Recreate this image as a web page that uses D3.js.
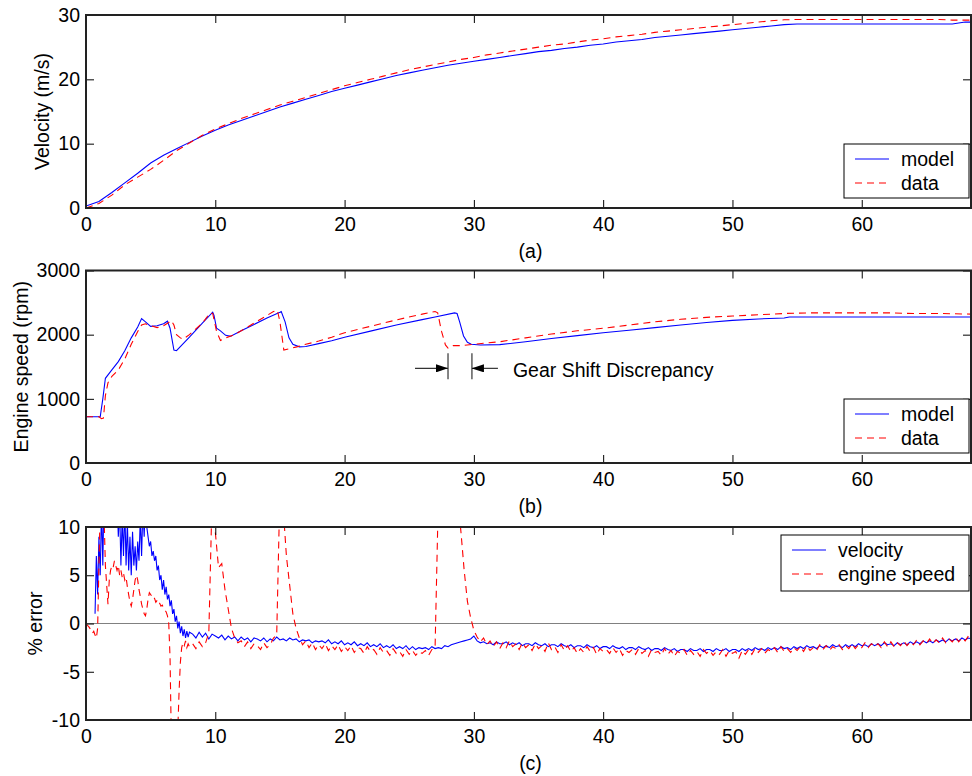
<!DOCTYPE html>
<meta charset="utf-8">
<head>
<style>
body { margin: 0; background: #fff; }
svg { display: block; font-family: "Liberation Sans", Arial, sans-serif; }
.tick line { stroke: #000; }
.tick text { font-size: 19.5px; fill: #000; }
.frame { fill: none; stroke: #222; stroke-width: 2; }
.model { fill: none; stroke: #0000ff; stroke-width: 1.1; }
.data { fill: none; stroke: #ff0000; stroke-width: 1.1; stroke-dasharray: 7,5; }
.lbl { font-size: 19.5px; fill: #000; }
</style>
</head>
<body>
<svg></svg>
<script src="https://cdn.jsdelivr.net/npm/d3@7/dist/d3.min.js"></script>
<script>
// ---- data ----
var xTicks = [0, 10, 20, 30, 40, 50, 60];
var velTicks = [0, 10, 20, 30];
var rpmTicks = [0, 1000, 2000, 3000];
var errTicks = [-10, -5, 0, 5, 10];

// velocity, 1 s samples 0..68 plus 68.5
var velTime = d3.range(0, 69).concat([68.5]);
var velModel = [0.3,1.0,2.4,3.9,5.4,7.0,8.2,9.2,10.2,11.2,
  12.1,12.9,13.6,14.3,15.0,15.7,16.3,16.9,17.5,18.1,
  18.6,19.1,19.6,20.1,20.6,21.0,21.4,21.8,22.2,22.5,
  22.8,23.1,23.4,23.7,24.0,24.3,24.5,24.8,25.0,25.3,
  25.5,25.8,26.0,26.2,26.5,26.7,26.9,27.1,27.3,27.5,
  27.7,27.9,28.1,28.3,28.5,28.6,28.6,28.6,28.6,28.6,
  28.6,28.6,28.6,28.6,28.6,28.6,28.6,28.6,28.9,
  28.9];
var velData = [0.0,0.7,2.0,3.6,4.8,6.0,7.4,8.9,10.1,11.3,
  12.3,13.1,13.9,14.6,15.3,16.0,16.6,17.2,17.8,18.4,
  19.0,19.5,20.0,20.5,21.0,21.5,21.9,22.3,22.7,23.1,
  23.4,23.8,24.1,24.4,24.7,25.0,25.3,25.5,25.8,26.1,
  26.3,26.6,26.8,27.0,27.3,27.5,27.7,27.9,28.1,28.3,
  28.5,28.7,28.9,29.1,29.25,29.3,29.3,29.3,29.3,29.3,
  29.3,29.3,29.3,29.3,29.3,29.3,29.3,29.2,29.2,
  29.2];

// engine speed (rpm)
var rpmModelTime = [0,1.1,1.3,1.5,2.0,2.5,3.0,3.5,4.0,4.3,4.6,5.0,5.5,6.0,6.3,6.5,6.8,7.0,8.0,9.0,
  9.8,9.9,10.1,10.4,10.8,11.2,12,13,14,15.0,15.1,15.4,15.7,16.0,16.5,17,18,19,20,22,
  24,26,27,28.5,28.7,28.9,29.2,29.5,29.8,30.5,32,34,36,38,40,42,44,46,48,50,
  52,54,54.4,56,58,60,62,64,66,68.5];
var rpmModel = [720,720,1000,1320,1450,1580,1750,1950,2120,2250,2200,2130,2140,2170,2210,2100,1760,1750,1960,2180,
  2350,2300,2100,2060,1990,1975,2060,2160,2260,2350,2360,2200,1950,1850,1810,1815,1860,1905,1960,2055,
  2150,2235,2275,2340,2330,2200,1980,1880,1850,1840,1845,1890,1940,1985,2030,2070,2110,2150,2190,2222,
  2245,2260,2275,2275,2275,2275,2275,2275,2275,2275];
var rpmDataTime = [0,1.0,1.2,1.35,1.5,1.7,2.0,2.5,3.0,3.5,4.0,4.3,4.6,5.0,5.5,6.0,6.4,6.6,6.8,7.0,
  7.3,7.5,8.0,9.0,9.6,9.8,10.1,10.4,10.8,11.5,12.5,13.5,14.5,14.8,15.0,15.3,15.7,16.3,17,18,
  19,20,22,24,26,27.0,27.2,27.5,27.8,28.0,28.4,29,30,32,34,36,38,40,42,44,
  46,48,50,52,54,56,58,60,62,64,66,68.5];
var rpmData = [720,720,690,700,1050,1250,1350,1450,1620,1850,2050,2150,2170,2140,2110,2140,2190,2220,2150,2000,
  1950,1930,2000,2180,2340,2330,2050,1910,1950,2000,2120,2240,2360,2380,2200,1760,1780,1810,1850,1900,
  1960,2030,2130,2230,2320,2360,2340,2050,1840,1790,1830,1830,1850,1890,1950,2010,2060,2100,2150,2200,
  2240,2270,2290,2310,2330,2340,2340,2340,2340,2330,2330,2320];

// % error: 0.1 s samples for 0..8 s, then 0.25 s samples 8.25..68.5
var errEarlyStep = 0.1, errLateStart = 8.25, errLateStep = 0.25;
var velErrEarly = [null,null,null,null,null,null,null,1.0,7,3,
  9,5,12,6,14,11,15,13,16,12,15,13,14,12,13,9,12,6,11,7,
  12,6,10.5,5.5,9,5,9.5,6,8,5.5,8.5,6.5,11,7,12,9,13,10,9,8,
  8.5,7,7.5,6.5,7,5.5,6,4.5,5,3.5,4.5,3,3.8,2.5,3,1.8,2.4,1,1.5,0.2,
  0.8,-0.5,0.2,-1,-0.3,-1.3,-0.6,-1.5,-0.8,-1.4,-0.9];
var velErrLate = [-1.1,-1.5,-0.9,-1.4, -1.0,-1.6,-1.1,-1.3, -1.5,-1.2,-1.7,-1.3, -1.6,-1.4,-1.8,-1.4,
  -1.7,-1.5,-1.9,-1.5, -1.6,-1.8,-1.5,-1.9, -1.6,-1.8,-1.4,-1.7, -1.6,-1.8,-1.5,-1.7,
  -1.6,-1.9,-1.7,-1.8, -1.7,-2.0,-1.8,-1.9, -1.8,-2.0,-1.7,-2.1, -1.9,-2.1,-1.8,-2.2,
  -2.0,-2.2,-1.9,-2.3, -2.1,-2.3,-2.0,-2.4, -2.2,-2.4,-2.1,-2.5, -2.3,-2.5,-2.2,-2.6,
  -2.4,-2.6,-2.3,-2.7, -2.4,-2.7,-2.5,-2.6, -2.5,-2.7,-2.4,-2.6, -2.5,-2.6,-2.3,-2.4,
  -2.2,-2.1,-2.0,-1.9, -1.8,-1.7,-1.6,-1.3, -1.8,-2.0,-1.9,-2.1, -2.0,-2.2,-1.9,-2.1,
  -2.1,-1.9,-2.2,-2.0, -2.2,-2.0,-2.3,-2.1, -2.1,-2.3,-2.0,-2.2, -2.3,-2.1,-2.4,-2.2,
  -2.2,-2.4,-2.1,-2.3, -2.4,-2.2,-2.5,-2.3, -2.3,-2.5,-2.2,-2.4, -2.5,-2.3,-2.6,-2.4,
  -2.4,-2.6,-2.3,-2.5, -2.6,-2.4,-2.7,-2.5, -2.5,-2.7,-2.4,-2.6, -2.7,-2.5,-2.8,-2.6,
  -2.6,-2.8,-2.5,-2.7, -2.8,-2.6,-2.9,-2.7, -2.7,-2.9,-2.6,-2.8, -2.8,-2.6,-2.9,-2.7,
  -2.7,-2.9,-2.6,-2.8, -2.8,-2.6,-2.9,-2.7, -2.7,-2.9,-2.6,-2.8, -2.6,-2.8,-2.5,-2.7,
  -2.6,-2.8,-2.5,-2.7, -2.5,-2.7,-2.4,-2.6, -2.5,-2.7,-2.4,-2.6, -2.4,-2.6,-2.3,-2.5,
  -2.4,-2.6,-2.3,-2.5, -2.3,-2.5,-2.2,-2.4, -2.3,-2.5,-2.2,-2.4, -2.2,-2.4,-2.1,-2.3,
  -2.2,-2.4,-2.1,-2.3, -2.1,-2.3,-2.0,-2.2, -2.1,-2.3,-2.0,-2.2, -2.0,-2.2,-1.9,-2.1,
  -1.9,-2.1,-1.8,-2.0, -1.8,-2.0,-1.7,-1.9, -1.7,-1.9,-1.6,-1.8, -1.6,-1.8,-1.5,-1.7,
  -1.5,-1.6];
var rpmErrEarly = [0,-0.2,-0.3,-0.5,-0.8,-1.0,-0.8,-1.2,-1.5,-0.5,
  6,12,15,14,11,6,4,2,4.5,5.5,6,5.8,6.5,6,5.5,6,5,5.5,4.8,5.2,
  4.5,4.8,3.8,3,2.2,1.8,2.5,3.5,4.5,5,4.5,3.5,2.8,2,1.5,1,0.8,1.5,2.5,3.2,
  3,2.8,2.5,2.6,2.2,2.4,2,2.1,1.8,1.9,1.6,1.4,1.2,0.8,0,-3.5,-12,-15,-15,-14,
  -13,-11,-7,-4,-2.5,-2,-2.3,-1.8,-2.5,-2.1,-2.4];
var rpmErrLate = [-2.1,-2.6,-1.9,-2.4, -2.0,-1.0,13,9.5, 5.8,6.2,3.5,1.5, -0.5,-1.5,-2.0,-1.8,
  -2.4,-1.9,-2.6,-2.1, -2.3,-2.7,-2.0,-2.5, -2.2,-1.5,-1.2,14, 12,7,4,1,
  -0.5,-1.5,-2.2,-1.8, -2.5,-2.0,-2.7,-2.2, -2.6,-2.1,-2.8,-2.3, -2.7,-2.2,-2.9,-2.4,
  -2.8,-2.3,-3.0,-2.5, -2.6,-3.1,-2.4,-2.9, -2.7,-3.2,-2.5,-3.0, -2.8,-3.3,-2.6,-3.1,
  -2.9,-3.4,-2.7,-3.2, -2.8,-3.3,-2.9,-3.1, -2.8,-3.3,-2.7,-2.5, 13,15,15,15,
  15,15,13,9.5, 5.5,2.3,0.6,-0.7, -1.4,-1.9,-1.5,-2.2, -1.8,-2.4,-1.9,-2.6,
  -2.0,-2.5,-1.8,-2.4, -2.1,-2.7,-2.0,-2.5, -2.2,-2.8,-2.1,-2.6, -2.3,-2.9,-2.0,-2.7,
  -2.4,-3.0,-2.2,-2.8, -2.3,-2.9,-2.5,-3.1, -2.6,-3.0,-2.4,-2.9, -2.5,-3.2,-2.6,-2.9,
  -2.7,-3.1,-2.5,-3.0, -2.6,-3.3,-2.8,-3.0, -2.7,-3.2,-2.6,-3.1, -2.8,-3.4,-2.7,-3.0,
  -2.9,-3.3,-2.6,-3.2, -2.8,-3.4,-2.9,-3.1, -2.7,-3.3,-2.8,-3.2, -2.9,-3.4,-2.7,-3.1,
  -2.8,-3.3,-2.9,-3.2, -2.7,-3.4,-2.8,-3.1, -2.9,-3.6,-2.8,-3.2, -2.7,-3.2,-2.6,-3.0,
  -2.6,-3.1,-2.7,-2.9, -2.5,-3.0,-2.4,-2.9, -2.6,-3.0,-2.5,-2.8, -2.4,-2.9,-2.3,-2.8,
  -2.5,-2.8,-2.2,-2.7, -2.3,-2.8,-2.4,-2.6, -2.2,-2.7,-2.3,-2.6, -2.1,-2.6,-2.2,-2.5,
  -2.0,-2.5,-2.1,-2.4, -2.1,-2.5,-1.9,-2.4, -1.9,-2.4,-2.0,-2.3, -1.8,-2.3,-1.9,-2.2,
  -1.7,-2.2,-1.8,-2.1, -1.6,-2.1,-1.7,-2.0, -1.5,-2.0,-1.6,-1.9, -1.4,-1.9,-1.5,-1.8,
  -1.3,-1.6];

// annotation: gear shift discrepancy, in data units (s, rpm)
var shiftModelT = 29.85, shiftDataT = 28.0;

// ---- layout ----
var width = 972, height = 776;
var left = 86, right = 971;
var panels = [
  {top: 15, bottom: 208, dom: [0, 30], ticks: velTicks, ylab: "Velocity (m/s)", ylx: 42, cap: "(a)"},
  {top: 270.5, bottom: 463, dom: [0, 3000], ticks: rpmTicks, ylab: "Engine speed (rpm)", ylx: 21, cap: "(b)"},
  {top: 527, bottom: 720, dom: [-10, 10], ticks: errTicks, ylab: "% error", ylx: 35, cap: "(c)"}
];

var svg = d3.select("svg").attr("width", width).attr("height", height);
var x = d3.scaleLinear().domain([0, 68.45]).range([left, right]);
var plain = function (d) { return String(d); };

function pairs(ts, vs) {
  return ts.map(function (t, i) { return [t, vs[i]]; });
}
function errPairs(early, late) {
  var a = early.map(function (v, i) { return [i * errEarlyStep, v]; });
  var b = late.map(function (v, i) { return [errLateStart + i * errLateStep, v]; });
  return a.concat(b);
}

var series = [
  [{cls: "model", pts: pairs(velTime, velModel)}, {cls: "data", pts: pairs(velTime, velData)}],
  [{cls: "model", pts: pairs(rpmModelTime, rpmModel)}, {cls: "data", pts: pairs(rpmDataTime, rpmData)}],
  [{cls: "model", pts: errPairs(velErrEarly, velErrLate)}, {cls: "data", pts: errPairs(rpmErrEarly, rpmErrLate)}]
];
var legends = [
  {x0: 844, x1: 969, y0: 144, y1: 198, names: ["model", "data"]},
  {x0: 844, x1: 969, y0: 399, y1: 453, names: ["model", "data"]},
  {x0: 781, x1: 969, y0: 535, y1: 591, names: ["velocity", "engine speed"]}
];

panels.forEach(function (p, k) {
  var y = d3.scaleLinear().domain(p.dom).range([p.bottom, p.top]);
  p.y = y;
  var g = svg.append("g");

  svg.append("clipPath").attr("id", "clip" + k)
    .append("rect").attr("x", left).attr("y", p.top)
    .attr("width", right - left).attr("height", p.bottom - p.top);

  if (k == 2) {
    g.append("line").attr("x1", left).attr("x2", right)
      .attr("y1", y(0)).attr("y2", y(0))
      .attr("stroke", "#808080").attr("stroke-width", 1);
  }

  var line = d3.line()
    .defined(function (d) { return d[1] != null; })
    .x(function (d) { return x(d[0]); })
    .y(function (d) { return y(d[1]); });

  var lines = g.append("g").attr("clip-path", "url(#clip" + k + ")");
  series[k].forEach(function (s) {
    lines.append("path").attr("class", s.cls).attr("d", line(s.pts));
  });

  // axes, ticks pointing inward
  g.append("g").attr("transform", "translate(0," + p.bottom + ")")
    .call(d3.axisBottom(x).tickValues(xTicks).tickFormat(plain).tickSizeInner(-8).tickSizeOuter(0).tickPadding(9))
    .call(function (a) { a.select(".domain").remove(); a.selectAll("text").attr("font-family", null).attr("font-size", null); });
  g.append("g").attr("transform", "translate(0," + p.top + ")")
    .call(d3.axisTop(x).tickValues(xTicks).tickSizeInner(-8).tickSizeOuter(0).tickFormat(""))
    .call(function (a) { a.select(".domain").remove(); });
  g.append("g").attr("transform", "translate(" + left + ",0)")
    .call(d3.axisLeft(y).tickValues(p.ticks).tickFormat(plain).tickSizeInner(-8).tickSizeOuter(0).tickPadding(6))
    .call(function (a) { a.select(".domain").remove(); a.selectAll("text").attr("font-family", null).attr("font-size", null); });
  g.append("g").attr("transform", "translate(" + right + ",0)")
    .call(d3.axisRight(y).tickValues(p.ticks).tickSizeInner(-8).tickSizeOuter(0).tickFormat(""))
    .call(function (a) { a.select(".domain").remove(); });

  g.append("rect").attr("class", "frame")
    .attr("x", left).attr("y", p.top)
    .attr("width", right - left).attr("height", p.bottom - p.top);

  g.append("text").attr("class", "lbl")
    .attr("transform", "translate(" + p.ylx + "," + (p.top + p.bottom) / 2 + ") rotate(-90)")
    .attr("text-anchor", "middle").attr("dominant-baseline", "central")
    .text(p.ylab);
  g.append("text").attr("class", "lbl")
    .attr("x", (left + right) / 2 + 2).attr("y", p.bottom + 43)
    .attr("text-anchor", "middle").attr("dominant-baseline", "central")
    .text(p.cap);

  // legend
  var L = legends[k];
  var lg = g.append("g");
  lg.append("rect").attr("x", L.x0).attr("y", L.y0)
    .attr("width", L.x1 - L.x0).attr("height", L.y1 - L.y0)
    .attr("fill", "#fff").attr("stroke", "#000").attr("stroke-width", 1);
  L.names.forEach(function (name, i) {
    var yy = L.y0 + 15 + i * 24;
    lg.append("line").attr("class", i == 0 ? "model" : "data")
      .attr("x1", L.x0 + 11).attr("x2", L.x0 + 45).attr("y1", yy).attr("y2", yy);
    lg.append("text").attr("class", "lbl")
      .attr("x", L.x0 + 57).attr("y", yy).attr("dominant-baseline", "central")
      .text(name);
  });
});

// gear shift annotation in panel (b)
var yb = panels[1].y;
var defs = svg.append("defs");
defs.append("marker").attr("id", "arr").attr("viewBox", "0 0 12 8")
  .attr("refX", 12).attr("refY", 4).attr("markerWidth", 12).attr("markerHeight", 8)
  .attr("markerUnits", "userSpaceOnUse").attr("orient", "auto")
  .append("path").attr("d", "M0,0 L12,4 L0,8 Z").attr("fill", "#000");

var ann = svg.append("g").attr("stroke", "#333").attr("stroke-width", 1.2);
var arrowY = yb(1475);
[shiftDataT, shiftModelT].forEach(function (t) {
  ann.append("line").attr("x1", x(t)).attr("x2", x(t))
    .attr("y1", yb(1710)).attr("y2", yb(1305));
});
ann.append("line").attr("x1", x(shiftDataT) - 33).attr("x2", x(shiftDataT))
  .attr("y1", arrowY).attr("y2", arrowY).attr("marker-end", "url(#arr)");
ann.append("line").attr("x1", x(shiftModelT) + 26).attr("x2", x(shiftModelT))
  .attr("y1", arrowY).attr("y2", arrowY).attr("marker-end", "url(#arr)");
svg.append("text").attr("class", "lbl")
  .attr("x", x(shiftModelT) + 41).attr("y", arrowY + 2)
  .attr("dominant-baseline", "central")
  .text("Gear Shift Discrepancy");
</script>
</body>
</html>
